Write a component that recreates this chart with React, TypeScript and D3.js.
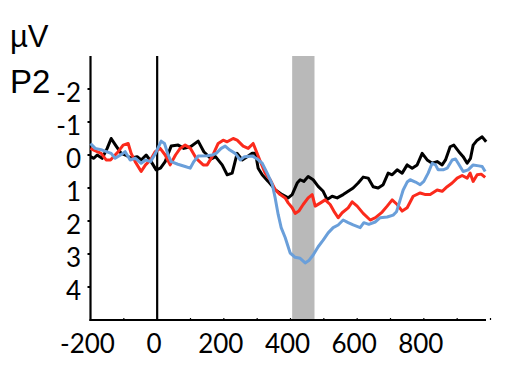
import * as d3 from "d3";

// ERP waveforms, time in ms, amplitude in µV (negative up)
const blackWave: [number, number][] = [
  [-200, 0.05], [-190, 0.1], [-180, 0.0], [-165, 0.1], [-150, -0.2], [-138, -0.5],
  [-125, -0.3], [-108, -0.05], [-95, 0.0], [-78, 0.1], [-60, 0.05], [-48, 0.15],
  [-33, 0.0], [-18, 0.2], [-3, 0.45], [10, 0.4], [24, 0.2], [42, -0.27], [63, -0.3],
  [80, -0.2], [100, -0.25], [123, -0.42], [140, -0.1], [162, 0.12], [175, 0.05],
  [195, 0.3], [210, 0.6], [225, 0.55], [240, -0.05], [255, 0.15], [270, 0.05],
  [285, -0.05], [295, -0.05], [303, 0.4], [315, 0.6], [333, 0.8], [354, 1.05],
  [375, 1.2], [393, 1.3], [405, 1.2], [420, 0.85], [429, 0.75], [440, 0.8],
  [453, 0.65], [468, 0.75], [483, 0.95], [498, 1.1], [510, 1.35], [525, 1.25],
  [540, 1.3], [558, 1.2], [573, 1.1], [588, 1.0], [603, 0.85], [618, 0.67],
  [633, 0.7], [648, 0.96], [663, 1.0], [678, 0.9], [693, 0.55], [705, 0.6],
  [720, 0.45], [735, 0.55], [750, 0.3], [765, 0.4], [780, 0.3], [795, -0.05],
  [810, 0.15], [825, 0.25], [840, 0.2], [855, 0.3], [865, 0.15], [879, -0.25],
  [890, -0.3], [905, -0.1], [918, 0.05], [930, 0.25], [940, 0.1], [948, -0.3],
  [960, -0.45], [975, -0.55], [987, -0.4],
];

const redWave: [number, number][] = [
  [-200, -0.2], [-190, -0.15], [-180, -0.1], [-168, -0.05], [-153, 0.15], [-140, 0.15],
  [-117, -0.1], [-102, -0.3], [-87, -0.35], [-78, -0.05], [-66, 0.2], [-48, 0.5],
  [-35, 0.3], [-20, 0.15], [-6, -0.1], [9, -0.2], [24, 0.0], [39, 0.3], [55, 0.0],
  [69, -0.2], [84, -0.3], [100, -0.2], [117, 0.1], [138, 0.3], [150, 0.3],
  [165, 0.05], [183, -0.35], [198, -0.45], [210, -0.4], [228, -0.5], [240, -0.45],
  [258, -0.27], [273, -0.2], [288, -0.35], [298, -0.1], [309, 0.18], [324, 0.55],
  [339, 0.75], [354, 1.05], [369, 1.2], [384, 1.3], [393, 1.45], [405, 1.6],
  [414, 1.77], [425, 1.7], [438, 1.5], [453, 1.3], [465, 1.2], [474, 1.55],
  [490, 1.45], [504, 1.36], [519, 1.5], [530, 1.7], [543, 1.9], [555, 1.75],
  [573, 1.6], [585, 1.42], [600, 1.55], [618, 1.77], [639, 1.97], [655, 1.9],
  [675, 1.73], [690, 1.55], [705, 1.36], [720, 1.5], [735, 1.7], [750, 1.6],
  [768, 1.25], [789, 1.15], [805, 1.2], [819, 1.2], [840, 1.06], [855, 1.1],
  [870, 0.96], [885, 0.85], [900, 0.7], [915, 0.62], [930, 0.7], [939, 0.55],
  [948, 0.8], [960, 0.6], [972, 0.58], [984, 0.68],
];

const blueWave: [number, number][] = [
  [-200, -0.35], [-186, -0.2], [-165, -0.15], [-138, -0.05], [-126, 0.1], [-110, 0.0],
  [-96, -0.1], [-81, 0.15], [-65, 0.1], [-48, 0.25], [-35, 0.15], [-20, 0.2],
  [-5, -0.05], [12, -0.42], [22, -0.35], [33, 0.0], [42, 0.2], [62, 0.28], [84, 0.35],
  [99, 0.4], [110, 0.2], [123, 0.03], [150, 0.02], [165, 0.0], [177, -0.05],
  [192, -0.2], [204, -0.27], [218, -0.15], [234, -0.05], [249, 0.15], [262, 0.05],
  [285, 0.03], [300, 0.12], [315, 0.25], [330, 0.55], [345, 0.88], [354, 1.3],
  [363, 1.8], [372, 2.2], [384, 2.5], [399, 2.97], [414, 3.1], [429, 3.13],
  [444, 3.27], [455, 3.2], [468, 3.03], [483, 2.78], [498, 2.58], [513, 2.36],
  [528, 2.2], [543, 2.12], [558, 1.97], [573, 2.05], [588, 2.12], [609, 2.2],
  [620, 2.05], [635, 2.1], [654, 2.03], [669, 1.9], [690, 1.88], [708, 1.82],
  [718, 1.72], [729, 1.36], [738, 1.06], [750, 0.82], [759, 0.75], [775, 0.82],
  [789, 0.9], [800, 0.8], [813, 0.55], [825, 0.25], [835, 0.3], [843, 0.45],
  [858, 0.45], [870, 0.4], [885, 0.15], [895, 0.12], [903, 0.25], [918, 0.5],
  [933, 0.45], [948, 0.3], [965, 0.33], [975, 0.35], [984, 0.5],
];

const xLabels = [-200, 0, 200, 400, 600, 800];
const xMinorTicks = [-100, 100, 200, 300, 400, 500, 600, 700, 800, 900, 1000];
const yTicks = [-2, -1, 0, 1, 2, 3, 4];
const window_ms: [number, number] = [405, 472];

export default function App() {
  const width = 514;
  const height = 368;

  const x = d3.scaleLinear().domain([-200, 1000]).range([90.5, 490.5]);
  const y = d3.scaleLinear().domain([-3, 5]).range([56, 320]);

  const line = d3
    .line<[number, number]>()
    .x((d) => x(d[0]))
    .y((d) => y(d[1]));

  const tickFont = "Lato, 'Open Sans', sans-serif";
  const axisEnd = 486;

  return (
    <svg
      width={width}
      height={height}
      style={{ position: "absolute", left: 0, top: 0, background: "#fff" }}
    >
      {/* analysis window */}
      <rect
        x={x(window_ms[0])}
        y={y(-3)}
        width={x(window_ms[1]) - x(window_ms[0])}
        height={y(5) - y(-3)}
        fill="#b9b9b9"
      />

      {/* stimulus onset */}
      <line x1={x(0)} x2={x(0)} y1={y(-3)} y2={y(5)} stroke="#000" strokeWidth={2.2} />

      {/* y axis */}
      <line x1={x(-200)} x2={x(-200)} y1={y(-3)} y2={y(5) + 1} stroke="#000" strokeWidth={2.2} />
      {yTicks.map((t) => (
        <g key={t}>
          <line x1={x(-200) - 3} x2={x(-200)} y1={y(t)} y2={y(t)} stroke="#000" strokeWidth={2} />
          <text
            x={81}
            y={y(t) + 12.5}
            textAnchor="end"
            fontFamily={tickFont}
            fontSize={26}
            fill="#000"
          >
            {t}
          </text>
        </g>
      ))}

      {/* x axis */}
      <line x1={x(-200) - 1} x2={axisEnd} y1={y(5)} y2={y(5)} stroke="#000" strokeWidth={2.2} />
      {xMinorTicks.map((t) => (
        <line key={t} x1={x(t)} x2={x(t)} y1={y(5) - 2} y2={y(5)} stroke="#000" strokeWidth={1.2} />
      ))}
      {xLabels.map((t) => (
        <text
          key={t}
          x={x(t) - 3}
          y={353}
          textAnchor="middle"
          fontFamily={tickFont}
          fontSize={26}
          fill="#000"
        >
          {t}
        </text>
      ))}

      {/* waveforms */}
      <path d={line(blackWave) ?? ""} fill="none" stroke="#000" strokeWidth={3} strokeLinejoin="round" />
      <path d={line(redWave) ?? ""} fill="none" stroke="#fb2a1c" strokeWidth={3} strokeLinejoin="round" />
      <path d={line(blueWave) ?? ""} fill="none" stroke="#6a9fda" strokeWidth={3} strokeLinejoin="round" />

      {/* titles */}
      <text x={10} y={47} fontFamily="'Liberation Sans', Arial, sans-serif" fontSize={31} fill="#000">
        µV
      </text>
      <text x={10} y={93} fontFamily="'Liberation Sans', Arial, sans-serif" fontSize={33} fill="#000">
        P2
      </text>
    </svg>
  );
}
